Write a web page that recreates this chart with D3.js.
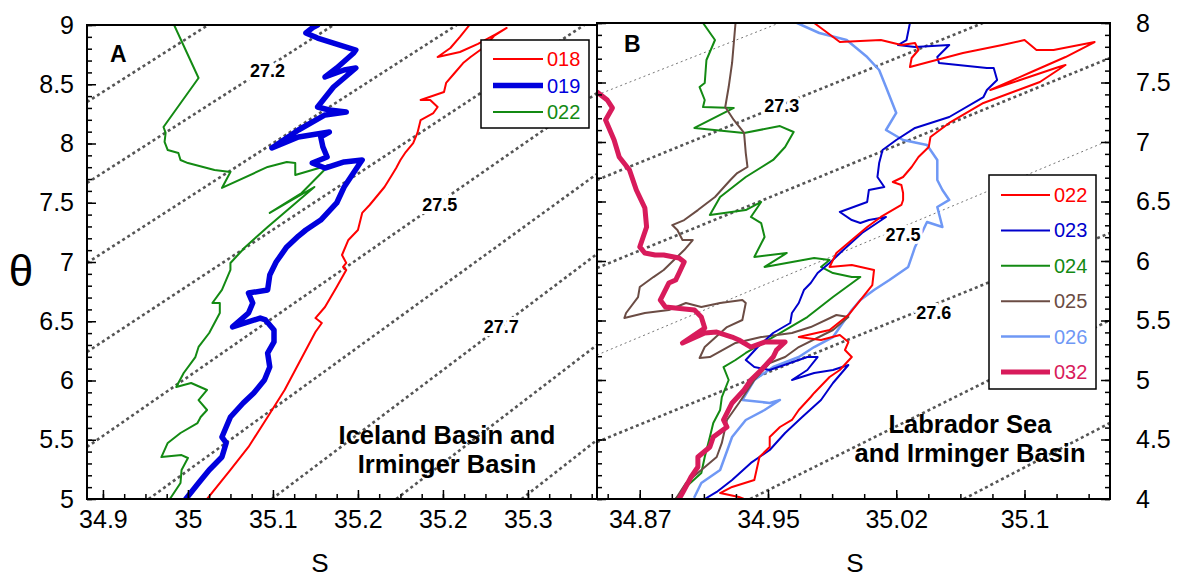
<!DOCTYPE html>
<html>
<head>
<meta charset="utf-8">
<script src="https://cdn.jsdelivr.net/npm/d3@7"></script>
<style>
  body { margin: 0; background: #fff; }
  svg text { font-family: "Liberation Sans", Arial, sans-serif; }
</style>
</head>
<body>
<script>
// ---- panel A : Iceland Basin and Irminger Basin ----
var seriesA = ["018", "019", "022"];
var a018S = [35.018,35.040,35.057,35.075,35.091,35.101,35.111,35.120,35.126,35.120,35.129,35.140,35.149,35.146,35.149,35.145,35.151,35.160,35.164,35.171,35.185,35.192,35.196,35.200,35.205,35.212,35.216,35.219,35.231,35.235,35.228,35.219,35.230,35.241,35.243,35.251,35.259,35.266,35.279,35.288,35.300,35.290,35.273,35.256,35.235,35.247,35.256,35.265];
var a018T = [5.000,5.245,5.439,5.692,5.920,6.089,6.257,6.409,6.485,6.527,6.620,6.789,6.933,6.958,6.992,7.059,7.186,7.270,7.414,7.481,7.633,7.734,7.793,7.861,7.928,8.004,8.089,8.198,8.257,8.308,8.367,8.367,8.401,8.435,8.511,8.595,8.679,8.730,8.814,8.907,8.975,8.924,8.840,8.772,8.730,8.806,8.899,9.000];
var a019S = [34.998,35.010,35.020,35.032,35.036,35.032,35.036,35.040,35.052,35.062,35.072,35.077,35.075,35.081,35.081,35.073,35.068,35.042,35.057,35.061,35.057,35.075,35.077,35.083,35.093,35.104,35.111,35.125,35.140,35.147,35.162,35.164,35.147,35.129,35.117,35.131,35.127,35.125,35.133,35.104,35.079,35.104,35.129,35.149,35.133,35.122,35.137,35.158,35.147,35.129,35.140,35.156,35.158,35.137,35.122,35.111,35.117,35.122];
var a019T = [5.000,5.135,5.245,5.354,5.473,5.523,5.608,5.692,5.810,5.895,6.004,6.114,6.232,6.325,6.426,6.511,6.527,6.452,6.570,6.654,6.738,6.764,6.890,7.000,7.127,7.219,7.270,7.354,7.498,7.633,7.835,7.861,7.844,7.793,7.835,7.886,7.971,8.055,8.097,8.055,7.962,8.114,8.241,8.266,8.283,8.308,8.477,8.637,8.620,8.561,8.637,8.764,8.789,8.848,8.890,8.933,8.975,9.000];
var a022S = [34.983,34.993,34.994,35.000,34.994,34.975,34.981,34.993,35.009,35.012,35.018,35.010,35.018,35.003,34.989,34.996,35.007,35.010,35.020,35.030,35.030,35.023,35.032,35.040,35.040,35.054,35.075,35.097,35.119,35.077,35.107,35.133,35.101,35.101,35.093,35.075,35.032,35.040,35.025,35.000,34.993,34.991,34.981,34.978,34.979,34.977,35.010,34.987];
var a022T = [5.000,5.135,5.245,5.346,5.371,5.354,5.473,5.557,5.641,5.692,5.751,5.835,5.920,5.979,5.945,6.063,6.198,6.283,6.401,6.570,6.654,6.654,6.764,6.933,6.992,7.127,7.295,7.464,7.633,7.414,7.582,7.819,7.734,7.835,7.844,7.802,7.625,7.760,7.776,7.835,7.861,7.920,7.945,8.013,8.089,8.139,8.553,9.000];

var isoALevels = [27.1, 27.2, 27.3, 27.4, 27.5, 27.6, 27.7, 27.8, 27.9];
var isoAFrom = [[34.905,8.350],[34.905,7.667],[34.905,6.992],[34.905,6.241],[34.905,5.439],[34.963,5.0],[35.079,5.0],[35.196,5.0],[35.314,5.0]];
var isoATo = [[35.019,9.0],[35.137,9.0],[35.253,9.0],[35.373,9.0],[35.385,8.426],[35.385,7.743],[35.385,7.068],[35.385,6.300],[35.385,5.498]];
var isoALabels = ["27.2", "27.5", "27.7"];
var isoALabelAt = [[35.075,8.612],[35.237,7.481],[35.295,6.451]];

var aXTicks = [34.92, 35.00, 35.08, 35.16, 35.24, 35.32];
var aXTickLabels = ["34.9", "35", "35.1", "35.2", "35.2", "35.3"];
var aYTicks = [5, 5.5, 6, 6.5, 7, 7.5, 8, 8.5, 9];

// ---- panel B : Labrador Sea and Irminger Basin ----
var seriesB = ["022", "023", "024", "025", "026", "032"];
var b022S = [34.977,34.981,34.992,35.016,35.028,35.036,35.038,35.034,35.033,35.044,35.064,35.087,35.100,35.107,35.117,35.141,35.124,35.104,35.080,35.120,35.124,35.109,35.076,35.056,35.045,35.044,35.038,35.034,35.029,35.023,35.028,35.029,35.029,35.028,35.016,35.008,34.999,34.990,34.986,34.999,35.012,35.011,35.004,34.997,34.986,34.968,34.981,34.992,34.997,34.995,34.999,34.992,34.986,34.977,34.975,34.968,34.964,34.957,34.951,34.951,34.945,34.942,34.929,34.922,34.933,34.936];
var b022T = [8.000,7.958,7.840,7.857,7.815,7.832,7.773,7.706,7.630,7.672,7.748,7.815,7.857,7.773,7.773,7.840,7.714,7.588,7.437,7.630,7.647,7.504,7.328,7.160,7.042,6.958,6.874,6.790,6.706,6.664,6.639,6.571,6.513,6.471,6.370,6.286,6.176,6.067,5.950,5.966,5.924,5.798,5.672,5.546,5.420,5.361,5.336,5.378,5.319,5.252,5.193,5.084,5.025,4.891,4.857,4.748,4.664,4.605,4.521,4.437,4.353,4.160,4.101,4.050,4.017,4.000];
var b023S = [35.033,35.031,35.026,35.036,35.056,35.049,35.050,35.078,35.082,35.084,35.078,35.076,35.056,35.036,35.025,35.017,35.015,35.014,35.018,35.009,35.008,34.992,34.999,35.004,35.009,35.019,35.005,34.994,34.986,34.979,34.975,34.971,34.968,34.964,34.963,34.953,34.944,34.937,34.942,34.951,34.973,34.979,34.973,34.964,34.977,34.988,34.997,34.988,34.981,34.970,34.960,34.951,34.940,34.929,34.920,34.913];
var b023T = [8.000,7.857,7.815,7.798,7.815,7.714,7.664,7.622,7.622,7.521,7.437,7.378,7.210,7.118,7.017,6.933,6.823,6.706,6.622,6.597,6.496,6.412,6.344,6.319,6.344,6.370,6.235,6.092,5.983,5.899,5.815,5.756,5.647,5.563,5.479,5.395,5.277,5.168,5.109,5.084,5.193,5.193,5.084,5.000,5.059,5.084,5.126,4.975,4.832,4.689,4.555,4.412,4.303,4.160,4.059,4.000];
var b024S = [34.912,34.919,34.914,34.913,34.910,34.913,34.912,34.930,34.907,34.936,34.957,34.965,34.960,34.953,34.937,34.922,34.916,34.937,34.946,34.940,34.946,34.948,34.942,34.961,34.948,34.977,34.986,34.981,34.988,34.999,35.004,34.988,34.973,34.960,34.948,34.937,34.931,34.924,34.927,34.923,34.922,34.918,34.916,34.913,34.911,34.902,34.896];
var b024T = [8.000,7.857,7.689,7.496,7.462,7.353,7.294,7.286,7.118,7.076,7.134,7.084,6.958,6.849,6.706,6.538,6.387,6.428,6.496,6.370,6.319,6.202,6.034,6.067,5.950,6.025,6.008,5.950,5.899,5.865,5.865,5.697,5.529,5.420,5.319,5.227,5.168,5.109,5.000,4.857,4.748,4.639,4.521,4.353,4.218,4.101,4.000];
var b025S = [34.931,34.929,34.927,34.925,34.930,34.936,34.937,34.938,34.932,34.928,34.919,34.909,34.901,34.894,34.897,34.900,34.906,34.901,34.895,34.889,34.883,34.875,34.874,34.867,34.866,34.878,34.892,34.902,34.911,34.922,34.935,34.937,34.935,34.926,34.913,34.910,34.916,34.931,34.946,34.964,34.975,34.990,34.997,34.988,34.968,34.960,34.951,34.942,34.933,34.926,34.923,34.920,34.911,34.902,34.896];
var b025T = [8.000,7.664,7.462,7.294,7.185,7.076,6.907,6.790,6.739,6.681,6.538,6.428,6.344,6.302,6.260,6.176,6.176,6.092,6.008,5.924,5.865,5.781,5.697,5.563,5.521,5.563,5.588,5.647,5.613,5.647,5.672,5.647,5.504,5.445,5.277,5.185,5.193,5.311,5.361,5.395,5.445,5.546,5.529,5.420,5.277,5.193,5.143,5.000,4.807,4.664,4.471,4.353,4.244,4.134,4.000];
var b026S = [34.967,34.980,34.996,35.008,35.015,35.019,35.025,35.019,35.029,35.043,35.049,35.049,35.052,35.056,35.049,35.052,35.043,35.036,35.032,35.021,35.012,35.004,34.999,34.988,34.977,34.968,34.953,34.942,34.935,34.951,34.957,34.948,34.937,34.929,34.922,34.911,34.907];
var b026T = [8.000,7.916,7.857,7.714,7.605,7.462,7.244,7.101,7.017,6.975,6.849,6.681,6.597,6.513,6.454,6.286,6.328,6.118,5.950,5.840,5.756,5.672,5.588,5.361,5.277,5.193,5.109,5.000,4.832,4.807,4.832,4.748,4.664,4.521,4.244,4.134,4.017];
var b032S = [34.850,34.856,34.859,34.855,34.860,34.863,34.869,34.873,34.878,34.879,34.875,34.878,34.884,34.889,34.898,34.901,34.898,34.896,34.892,34.887,34.890,34.907,34.911,34.913,34.900,34.913,34.920,34.929,34.933,34.940,34.948,34.960,34.955,34.953,34.946,34.940,34.936,34.929,34.924,34.926,34.918,34.916,34.909,34.909,34.905,34.900,34.898];
var b032T = [7.420,7.353,7.286,7.185,7.017,6.874,6.765,6.597,6.445,6.286,6.118,6.067,6.050,6.050,6.025,5.992,5.899,5.840,5.815,5.672,5.613,5.588,5.529,5.437,5.311,5.395,5.403,5.361,5.336,5.277,5.319,5.319,5.252,5.193,5.084,5.000,4.916,4.807,4.664,4.605,4.521,4.437,4.353,4.269,4.185,4.050,4.000];

var isoBLevels = [27.2, 27.3, 27.4, 27.5, 27.6, 27.7, 27.8];
var isoBFrom = [[34.85,7.395],[34.85,6.681],[34.85,5.941],[34.85,5.210],[34.85,4.479],[34.9396,4.0],[35.0645,4.0]];
var isoBTo = [[34.9566,8.0],[35.0756,8.0],[35.15,7.706],[35.15,7.017],[35.15,6.235],[35.15,5.504],[35.15,4.639]];
var isoBLabels = ["27.3", "27.5", "27.6"];
var isoBLabelAt = [[34.958,7.303],[35.029,6.218],[35.047,5.563]];

var bXTicks = [34.875, 34.95, 35.025, 35.1];
var bXTickLabels = ["34.87", "34.95", "35.02", "35.1"];
var bYTicks = [4, 4.5, 5, 5.5, 6, 6.5, 7, 7.5, 8];

// ---------------------------------------------------
var w = 1177, h = 577;
var svg = d3.select("body").append("svg").attr("width", w).attr("height", h);

var xA = d3.scaleLinear().domain([34.905, 35.385]).range([87, 597]);
var yA = d3.scaleLinear().domain([5, 9]).range([499, 25]);
var xB = d3.scaleLinear().domain([34.85, 35.15]).range([597, 1110]);
var yB = d3.scaleLinear().domain([4, 8]).range([499, 23]);

var colorsA = {"018": "#ff0000", "019": "#0000dd", "022": "#138a13"};
var widthsA = {"018": 2, "019": 5.5, "022": 2};
var colorsB = {"022": "#ff0000", "023": "#0000cc", "024": "#138a13", "025": "#6b4c44", "026": "#6f98f5", "032": "#d81b5b"};
var widthsB = {"022": 2, "023": 2, "024": 2, "025": 2, "026": 2.5, "032": 5};

var dataA = {"018": d3.zip(a018S, a018T), "019": d3.zip(a019S, a019T), "022": d3.zip(a022S, a022T)};
var dataB = {"022": d3.zip(b022S, b022T), "023": d3.zip(b023S, b023T), "024": d3.zip(b024S, b024T),
             "025": d3.zip(b025S, b025T), "026": d3.zip(b026S, b026T), "032": d3.zip(b032S, b032T)};

function drawPanel(opt) {
  var x = opt.x, y = opt.y;
  var left = x.range()[0], right = x.range()[1], top = y.range()[1], bottom = y.range()[0];
  var g = svg.append("g");

  g.append("clipPath").attr("id", opt.id)
    .append("rect")
    .attr("x", left).attr("y", top)
    .attr("width", right - left).attr("height", bottom - top);

  var plot = g.append("g").attr("clip-path", "url(#" + opt.id + ")");

  // isopycnals
  plot.selectAll("line.iso")
    .data(opt.isoLevels)
    .enter()
    .append("line")
    .attr("class", "iso")
    .attr("x1", function(d, i) { return x(opt.isoFrom[i][0]); })
    .attr("y1", function(d, i) { return y(opt.isoFrom[i][1]); })
    .attr("x2", function(d, i) { return x(opt.isoTo[i][0]); })
    .attr("y2", function(d, i) { return y(opt.isoTo[i][1]); })
    .attr("stroke", function(d) { return opt.thin(d) ? "#777" : "#555"; })
    .attr("stroke-width", function(d) { return opt.thin(d) ? 1 : 2.6; })
    .attr("stroke-dasharray", function(d) { return opt.thin(d) ? "2,3" : "3,3"; });

  // profiles
  var line = d3.line()
    .x(function(d) { return x(d[0]); })
    .y(function(d) { return y(d[1]); });

  opt.order.forEach(function(name) {
    plot.append("path")
      .datum(opt.data[name])
      .attr("d", line)
      .attr("fill", "none")
      .attr("stroke", opt.colors[name])
      .attr("stroke-width", opt.widths[name])
      .attr("stroke-linejoin", "round")
      .attr("stroke-linecap", "round");
  });

  // isopycnal labels
  g.selectAll("text.isolab")
    .data(opt.isoLabels)
    .enter()
    .append("text")
    .attr("class", "isolab")
    .attr("x", function(d, i) { return x(opt.isoLabelAt[i][0]); })
    .attr("y", function(d, i) { return y(opt.isoLabelAt[i][1]); })
    .attr("text-anchor", "middle")
    .attr("dominant-baseline", "central")
    .attr("font-size", "18px")
    .attr("font-weight", "bold")
    .attr("fill", "#000")
    .attr("stroke", "#fff")
    .attr("stroke-width", 6)
    .attr("paint-order", "stroke")
    .text(function(d) { return d; });

  // frame
  g.append("rect")
    .attr("x", left).attr("y", top)
    .attr("width", right - left).attr("height", bottom - top)
    .attr("fill", "none").attr("stroke", "#000").attr("stroke-width", 2);

  // x axis (ticks inward)
  var xMinor = g.append("g").attr("transform", "translate(0," + bottom + ")")
    .call(d3.axisBottom(x).tickValues(opt.xMinor).tickSize(-5).tickFormat(""));
  var xMajor = g.append("g").attr("transform", "translate(0," + bottom + ")")
    .call(d3.axisBottom(x).tickValues(opt.xTicks).tickSize(-9).tickPadding(11)
      .tickFormat(function(d, i) { return opt.xTickLabels[i]; }));

  // y axes
  var yL1 = g.append("g").attr("transform", "translate(" + left + ",0)")
    .call(d3.axisLeft(y).tickValues(opt.yMinor).tickSize(-5).tickFormat(""));
  var yL2 = g.append("g").attr("transform", "translate(" + left + ",0)")
    .call(d3.axisLeft(y).tickValues(opt.yTicks).tickSize(-9).tickPadding(13)
      .tickFormat(function(d) { return opt.leftLabels ? d : ""; }));
  var axes = [xMinor, xMajor, yL1, yL2];

  if (opt.rightAxis) {
    var yR1 = g.append("g").attr("transform", "translate(" + right + ",0)")
      .call(d3.axisRight(y).tickValues(opt.yMinor).tickSize(-5).tickFormat(""));
    var yR2 = g.append("g").attr("transform", "translate(" + right + ",0)")
      .call(d3.axisRight(y).tickValues(opt.yTicks).tickSize(-9).tickPadding(26)
        .tickFormat(function(d) { return d; }));
    axes.push(yR1, yR2);
  }

  axes.forEach(function(a) {
    a.select(".domain").remove();
    a.selectAll(".tick line").attr("stroke", "#000").attr("stroke-width", 1.5);
    a.attr("font-family", "Liberation Sans, Arial, sans-serif").attr("font-size", 25);
    a.selectAll(".tick text").attr("fill", "#000");
  });

  // panel letter
  g.append("text")
    .attr("x", opt.letterPos[0]).attr("y", opt.letterPos[1])
    .attr("font-size", "23px").attr("font-weight", "bold")
    .text(opt.letter);

  // region name
  g.selectAll("text.region")
    .data(opt.region)
    .enter()
    .append("text")
    .attr("class", "region")
    .attr("x", opt.regionPos[0])
    .attr("y", function(d, i) { return opt.regionPos[1] + i * 29; })
    .attr("text-anchor", "middle")
    .attr("font-size", "25.5px")
    .attr("font-weight", "bold")
    .text(function(d) { return d; });

  // S axis title
  g.append("text")
    .attr("x", opt.sPos).attr("y", 572)
    .attr("text-anchor", "middle")
    .attr("font-size", "26px")
    .text("S");

  // legend
  var L = opt.legend;
  var lg = g.append("g");
  lg.append("rect")
    .attr("x", L.x).attr("y", L.y).attr("width", L.w).attr("height", L.h)
    .attr("fill", "#fff").attr("stroke", "#000").attr("stroke-width", 1.5);
  var rows = lg.selectAll("g.row")
    .data(opt.order.slice().sort())
    .enter()
    .append("g")
    .attr("transform", function(d, i) { return "translate(0," + (L.first + i * L.step) + ")"; });
  rows.append("line")
    .attr("x1", L.x + 12).attr("x2", L.x + 12 + L.len)
    .attr("stroke", function(d) { return opt.colors[d]; })
    .attr("stroke-width", function(d) { return opt.widths[d]; });
  rows.append("text")
    .attr("x", L.x + 16 + L.len)
    .attr("dominant-baseline", "central")
    .attr("font-size", "20px")
    .attr("fill", function(d) { return opt.colors[d]; })
    .text(function(d) { return d; });
}

drawPanel({
  id: "clipA", x: xA, y: yA,
  isoLevels: isoALevels, isoFrom: isoAFrom, isoTo: isoATo,
  isoLabels: isoALabels, isoLabelAt: isoALabelAt,
  thin: function() { return false; },
  data: dataA, order: ["022", "018", "019"], colors: colorsA, widths: widthsA,
  xTicks: aXTicks, xTickLabels: aXTickLabels, xMinor: d3.range(34.92, 35.385, 0.02),
  yTicks: aYTicks, yMinor: d3.range(5, 9.001, 0.1), leftLabels: true, rightAxis: false,
  letter: "A", letterPos: [110, 62], sPos: 320,
  region: ["Iceland Basin and", "Irminger Basin"], regionPos: [447, 444],
  legend: {x: 481, y: 40, w: 108, h: 88, first: 59, step: 26.5, len: 50}
});

drawPanel({
  id: "clipB", x: xB, y: yB,
  isoLevels: isoBLevels, isoFrom: isoBFrom, isoTo: isoBTo,
  isoLabels: isoBLabels, isoLabelAt: isoBLabelAt,
  thin: function(d) { return d === 27.2 || d === 27.5; },
  data: dataB, order: ["026", "024", "025", "023", "022", "032"], colors: colorsB, widths: widthsB,
  xTicks: bXTicks, xTickLabels: bXTickLabels, xMinor: d3.range(34.85625, 35.15, 0.01875),
  yTicks: bYTicks, yMinor: d3.range(4, 8.001, 0.1), leftLabels: false, rightAxis: true,
  letter: "B", letterPos: [624, 52], sPos: 855,
  region: ["Labrador Sea", "and Irminger Basin"], regionPos: [970, 433],
  legend: {x: 989, y: 175, w: 107, h: 214, first: 195, step: 35.4, len: 49}
});

// theta axis title
svg.append("text")
  .attr("x", 21).attr("y", 286)
  .attr("text-anchor", "middle")
  .attr("font-family", "Liberation Serif, Times New Roman, serif")
  .attr("font-size", "44px")
  .text("θ");
</script>
</body>
</html>
